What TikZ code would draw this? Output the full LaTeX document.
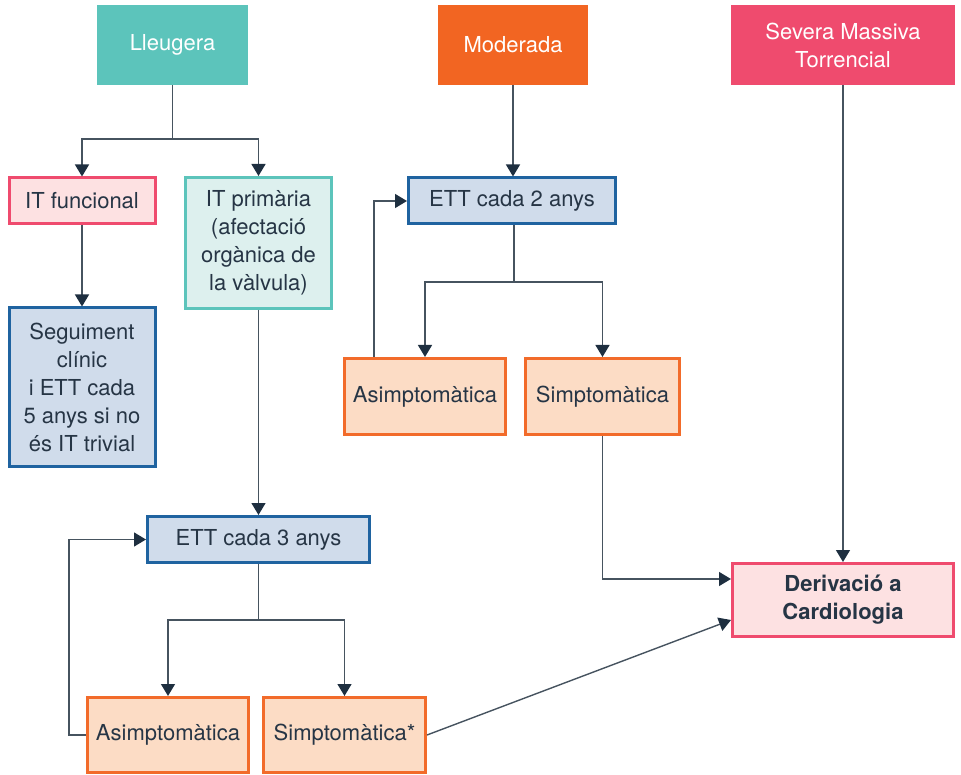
\documentclass[tikz,border=0pt]{standalone}
\usepackage{fontspec}
\setmainfont{TeX Gyre Heros}
\usetikzlibrary{arrows.meta,positioning,calc}
\definecolor{teal}{HTML}{5CC4BB}
\definecolor{tealL}{HTML}{DDF0EE}
\definecolor{orng}{HTML}{F26522}
\definecolor{orngB}{HTML}{F26B2A}
\definecolor{orngL}{HTML}{FCDCC5}
\definecolor{pnk}{HTML}{EF4B6E}
\definecolor{pnkL}{HTML}{FDE1E2}
\definecolor{blu}{HTML}{1F63A0}
\definecolor{bluL}{HTML}{D0DCEB}
\definecolor{txt}{HTML}{263545}
\definecolor{lin}{HTML}{46535F}
\definecolor{tip}{HTML}{1E2F40}
\tikzset{
  base/.style={rectangle, inner sep=0pt, align=center, text=txt,
    font=\fontsize{22}{28}\selectfont},
  topbox/.style={base, text=white, draw=none},
  stdbox/.style={base, line width=3pt},
  conn/.style={draw=lin, line width=1.4pt},
  arr/.style={conn, -{Triangle[width=14pt,length=12pt,color=tip]}},
}
\begin{document}
\begin{tikzpicture}[x=1pt,y=-1pt]
\useasboundingbox (0,0) rectangle (961,775);
% top category boxes
\node[topbox, fill=teal, minimum width=151pt, minimum height=80pt] (lleu) at (172.5,45) {Lleugera};
\node[topbox, fill=orng, minimum width=150pt, minimum height=80pt] (mod) at (513,45) {Moderada};
\node[topbox, fill=pnk, minimum width=224pt, minimum height=80pt] (sev) at (843,45) {Severa Massiva\\Torrencial};
% left branch
\node[stdbox, draw=pnk, fill=pnkL, minimum width=146pt, minimum height=46pt] (itf) at (82,201) {IT funcional};
\node[stdbox, draw=teal, fill=tealL, minimum width=146pt, minimum height=131pt] (itp) at (258.5,243) {IT primària\\(afectació\\orgànica de\\la vàlvula)};
\node[stdbox, draw=blu, fill=bluL, minimum width=146pt, minimum height=158pt] (seg) at (82,387) {Seguiment\\clínic\\i ETT cada\\5 anys si no\\és IT trivial};
\node[stdbox, draw=blu, fill=bluL, minimum width=222pt, minimum height=46pt] (ett3) at (258.5,539.5) {ETT cada 3 anys};
\node[stdbox, draw=orngB, fill=orngL, minimum width=161pt, minimum height=75pt] (asm2) at (168,735) {Asimptomàtica};
\node[stdbox, draw=orngB, fill=orngL, minimum width=162pt, minimum height=75pt] (sim2) at (344.5,735) {Simptomàtica*};
% middle branch
\node[stdbox, draw=blu, fill=bluL, minimum width=207pt, minimum height=46pt] (ett2) at (512,201) {ETT cada 2 anys};
\node[stdbox, draw=orngB, fill=orngL, minimum width=161pt, minimum height=76pt] (asm1) at (425,396.5) {Asimptomàtica};
\node[stdbox, draw=orngB, fill=orngL, minimum width=154pt, minimum height=76pt] (sim1) at (602.5,396.5) {Simptomàtica};
% referral
\node[stdbox, draw=pnk, fill=pnkL, minimum width=221pt, minimum height=73pt, font=\fontsize{22}{28}\selectfont\bfseries] (der) at (843,600) {Derivació a\\Cardiologia};
% connectors
\coordinate (j1) at (172.5,139);
\draw[conn] (lleu.south) -- (j1);
\draw[arr] (j1) -| (itf.north);
\draw[arr] (j1) -| (itp.north);
\draw[arr] (itf.south) -- (seg.north);
\draw[arr] (itp.south) -- (ett3.north);
\coordinate (j3) at (258.5,620);
\draw[conn] (ett3.south) -- (j3);
\draw[arr] (j3) -| (asm2.north);
\draw[arr] (j3) -| (sim2.north);
\draw[arr] (asm2.west) -- ++(-17,0) |- (ett3.west);
\draw[arr] (sim2.east) -- ([yshift=-20pt]der.west);
\draw[arr] (mod.south) -- (mod.south |- ett2.north);
\coordinate (j2) at (514,282);
\draw[conn] (ett2.south -| j2) -- (j2);
\draw[arr] (j2) -| (asm1.north);
\draw[arr] (j2) -| (sim1.north);
\draw[arr] ([xshift=31pt]asm1.north west) |- (ett2.west);
\draw[arr] (sim1.south) |- ([yshift=21pt]der.west);
\draw[arr] (sev.south) -- (der.north);
\end{tikzpicture}
\end{document}
